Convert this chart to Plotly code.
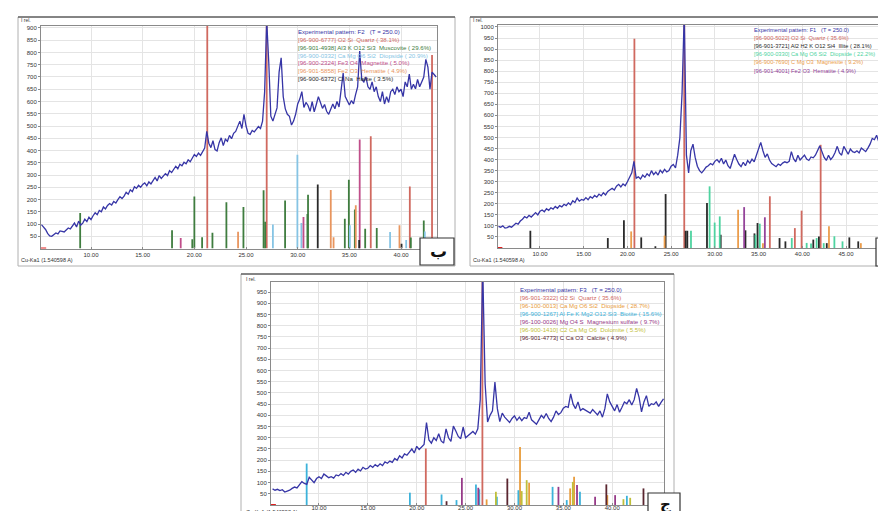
import numpy as np
import plotly.graph_objects as go

W, H = 886, 511

# ---------------- Panel ب (F2) ----------------
B_X0, B_STEP = 5.2, 0.2
B_Y = [98, 90, 78, 62, 52,
       50, 58, 64, 60, 72,
       70, 68, 76, 84, 80,
       92, 104, 88, 112, 96,
       104, 120, 110, 128, 118,
       134, 146, 138, 156, 150,
       170, 162, 176, 184, 178,
       192, 186, 200, 212, 204,
       214, 230, 222, 240, 232,
       252, 246, 258, 250, 262,
       268, 256, 272, 264, 280,
       290, 276, 298, 286, 294,
       306, 298, 318, 310, 322,
       336, 326, 344, 338, 352,
       346, 362, 354, 372, 384,
       376, 390, 380, 396, 410,
       478, 430, 412, 440, 404,
       398, 432, 452, 420, 446,
       438, 462, 448, 470, 478,
       500, 520, 490, 548, 500,
       470, 466, 482, 476, 488,
       498, 490, 520, 640, 930,
       760, 540, 520, 548, 574,
       720, 778, 620, 570, 548,
       540, 504, 520, 548, 590,
       610, 640, 576, 596, 584,
       560, 600, 558, 588, 620,
       596, 572, 588, 560, 548,
       566, 590, 570, 600, 578,
       640, 716, 620, 600, 586,
       604, 590, 628, 660, 806,
       690, 680, 700, 660, 650,
       680, 640, 660, 620, 600,
       640, 590, 620, 596, 640,
       650, 628, 660, 640, 650,
       620, 680, 660, 712, 650,
       670, 652, 690, 660, 680,
       700, 772, 740, 650, 720,
       710, 700]

B_QUARTZ_X = [21.25, 27.0, 37.07, 40.85, 43.0]
B_QUARTZ_H = [2000, 2000, 458, 253, 790]
B_MUSC_X = [8.95, 17.84, 19.8, 20.0, 20.75, 21.75, 23.1, 24.75, 26.7, 26.85, 28.78,
            30.94, 31.0, 34.56, 34.95, 35.53, 36.53, 37.65, 40.95, 42.2]
B_MUSC_H = [145, 75, 38, 213, 46, 65, 189, 170, 238, 110, 196,
            141, 220, 122, 281, 159, 81, 84, 45, 115]
B_DIOP_X = [27.6, 29.97, 30.36, 35.05, 38.94, 40.5, 42.3]
B_DIOP_H = [98, 383, 104, 95, 68, 35, 70]
B_MAGN_X = [18.68, 30.56, 36.0]
B_MAGN_H = [43, 129, 445]
B_HEM_X = [24.23, 33.2, 33.47, 35.62, 39.85]
B_HEM_H = [69, 239, 46, 177, 95]
B_HAL_X = [31.94, 35.95, 40.05]
B_HAL_H = [261, 35, 20]

B_LEGEND = ["Experimental pattern: F2   (T = 250.0)",
            "[96-900-6777] O2 Si  Quartz ( 38.1%)",
            "[96-901-4938] Al3 K O12 Si3  Muscovite ( 29.6%)",
            "[96-900-0332] Ca Mg O6 Si2  Diopside ( 20.9%)",
            "[96-900-2324] Fe3 O4  Magnetite ( 5.0%)",
            "[96-901-5858] Fe2 O3  Hematite ( 4.9%)",
            "[96-900-6372] Cl Na  Halite ( 3.5%)"]

# ---------------- Panel أ (F1) ----------------
A_X0, A_STEP = 5.25, 0.25
A_Y = [98, 94, 100, 90,
       92, 98, 94, 104,
       112, 108, 122, 130,
       142, 136, 148, 140,
       152, 160, 150, 166,
       172, 164, 178, 170,
       182, 176, 188, 180,
       192, 186, 198, 192,
       204, 196, 214, 206,
       226, 212, 220, 216,
       228, 218, 232, 226,
       238, 230, 244, 236,
       250, 240, 256, 262,
       270, 262, 280, 288,
       276, 290, 282, 300,
       320, 340, 392, 316,
       322, 312, 330, 320,
       336, 326, 350, 332,
       344, 330, 352, 340,
       356, 344, 350, 370,
       378, 362, 420, 498,
       700, 1060, 420, 340,
       440, 470, 410, 370,
       350, 340, 352, 366,
       372, 382, 376, 392,
       400, 388, 406, 380,
       398, 372, 360, 392,
       424, 400, 380, 368,
       388, 372, 396, 384,
       402, 390, 420, 448,
       478, 440, 410, 426,
       398, 382, 376, 368,
       380, 374, 384, 390,
       386, 392, 436, 404,
       390, 420, 398, 410,
       420, 402, 396, 412,
       408, 420, 440, 462,
       436, 410, 396, 420,
       400, 412, 432, 460,
       430, 420, 460, 440,
       424, 448, 436, 432,
       440, 430, 452, 444,
       436, 452, 470, 496,
       490, 510, 480, 500,
       520, 512, 498, 470,
       456]

A_QUARTZ_X = [20.8, 26.5, 36.29, 39.15, 39.92, 42.1, 49.74]
A_QUARTZ_H = [947, 2000, 234, 90, 169, 467, 302]
A_ILL_X = [8.9, 17.76, 19.6, 21.58, 23.2, 24.37, 26.66, 26.85, 29.1, 30.67, 33.5,
           34.53, 34.88, 37.4, 38.07, 41.26, 41.9, 42.8, 45.38, 46.4, 49.6]
A_ILL_H = [78, 45, 125, 48, 8, 244, 78, 78, 204, 60, 80,
           66, 113, 45, 30, 38, 52, 22, 48, 30, 72]
A_DIOP_X = [27.27, 29.4, 29.98, 30.56, 34.65, 35.14, 38.8, 40.5, 41.0, 41.64, 42.45, 43.67, 44.6]
A_DIOP_H = [78, 279, 115, 143, 60, 110, 45, 23, 20, 45, 22, 53, 30]
A_MAGS_X = [20.43, 24.25, 32.66, 35.5, 43.05, 46.7]
A_MAGS_H = [75, 56, 173, 22, 98, 22]
A_HEM_X = [33.35, 35.72]
A_HEM_H = [185, 139]

A_LEGEND = ["Experimental pattern: F1   (T = 250.0)",
            "[96-900-5022] O2 Si  Quartz ( 35.6%)",
            "[96-901-3721] Al2 H2 K O12 Si4  Illite ( 28.1%)",
            "[96-900-0330] Ca Mg O6 Si2  Diopside ( 22.2%)",
            "[96-900-7690] C Mg O3  Magnesite ( 9.2%)",
            "[96-901-4001] Fe2 O3  Hematite ( 4.9%)"]

# ---------------- Panel ج (F3) ----------------
C_X0, C_STEP = 5.25, 0.25
C_Y = [72, 66, 70, 64,
       68, 58, 62, 66,
       74, 80, 76, 90,
       104, 96, 92, 124,
       112, 100, 118, 126,
       118, 138, 130, 122,
       126, 120, 134, 130,
       140, 132, 146, 138,
       150, 156, 146, 160,
       152, 168, 160, 164,
       176, 168, 180, 172,
       184, 176, 192, 186,
       196, 190, 208, 200,
       220, 210, 228, 222,
       236, 250, 232, 262,
       248, 258, 270, 368,
       290, 276, 300, 288,
       318, 286, 276, 340,
       300, 284, 352, 330,
       306, 296, 348, 300,
       310, 318, 328, 316,
       340, 470, 1060, 540,
       370, 400, 420, 548,
       430, 372, 410, 392,
       380, 368, 386, 398,
       378, 392, 376, 390,
       386, 414, 380, 372,
       360, 380, 400, 388,
       408, 386, 372, 392,
       420, 404, 412, 432,
       440, 436, 496, 450,
       430, 460, 422, 430,
       424, 418, 410, 426,
       412, 402, 420, 392,
       430, 496, 460, 440,
       420, 448, 414, 436,
       460, 452, 470, 446,
       470, 520, 480, 416,
       460, 488, 440, 452,
       448, 460, 440, 458,
       474]

C_QUARTZ_X = [20.93, 26.72]
C_QUARTZ_H = [252, 2000]
C_DIOP_X = [27.15, 30.57, 31.5, 35.7, 36.1, 39.5, 44.06, 44.4]
C_DIOP_H = [25, 259, 99, 74, 126, 44, 22, 45]
C_BIOT_X = [8.74, 19.3, 22.54, 24.07, 26.06, 26.4, 28.2, 30.4, 33.9, 35.35, 36.7, 41.5]
C_BIOT_H = [185, 55, 47, 22, 92, 70, 37, 66, 81, 22, 59, 41]
C_MGS_X = [24.62, 26.3, 34.5, 36.4, 38.25, 40.3]
C_MGS_H = [121, 77, 81, 89, 37, 44]
C_DOL_X = [28.1, 30.74, 31.25, 35.97, 41.15, 41.84]
C_DOL_H = [59, 62, 111, 103, 26, 32]
C_CAL_X = [23.05, 29.27, 39.4, 43.2]
C_CAL_H = [17, 118, 92, 74]

C_LEGEND = ["Experimental pattern: F3   (T = 250.0)",
            "[96-901-3322] O2 Si  Quartz ( 35.6%)",
            "[96-100-0013] Ca Mg O6 Si2  Diopside ( 28.7%)",
            "[96-900-1267] Al Fe K Mg2 O12 Si3  Biotite ( 15.6%)",
            "[96-100-0026] Mg O4 S  Magnesium sulfate ( 9.7%)",
            "[96-900-1410] C2 Ca Mg O6  Dolomite ( 5.5%)",
            "[96-901-4773] C Ca O3  Calcite ( 4.9%)"]

# ---------------- styling ----------------
BLUE = "#3635a6"
RED = "#d0695f"
FONT = "Liberation Sans"

B_COLORS = [BLUE, RED, "#3f7d3f", "#86c4e4", "#c04e8a", "#e8955e", "#2a2a2a"]
A_COLORS = [BLUE, RED, "#2a2a2a", "#4ed3a0", "#eb9d4c", "#94449a"]
C_COLORS = [BLUE, RED, "#e89c3c", "#3cb2da", "#963a88", "#bfbf3a", "#5a2630"]


def px(x):
    return x / W


def py(y):
    return 1 - y / H


def sticks(xs, hs):
    X, Y = [], []
    for x, h in zip(xs, hs):
        X += [x, x, None]
        Y += [0, h, None]
    return X, Y


fig = go.Figure()


def add_panel(n, xs0, step, ys, stick_sets, colors):
    xa = "x" if n == 1 else "x%d" % n
    ya = "y" if n == 1 else "y%d" % n
    for (sx, sh), col in zip(stick_sets, colors[1:]):
        X, Y = sticks(sx, sh)
        fig.add_trace(go.Scatter(x=X, y=Y, mode="lines", line=dict(color=col, width=1.8),
                                 xaxis=xa, yaxis=ya, hoverinfo="skip", showlegend=False))
    xs = np.round(xs0 + step * np.arange(len(ys)), 3)
    fig.add_trace(go.Scatter(x=xs, y=ys, mode="lines", line=dict(color=BLUE, width=1.3),
                             xaxis=xa, yaxis=ya, showlegend=False))


add_panel(1, B_X0, B_STEP, B_Y,
          [(B_QUARTZ_X, B_QUARTZ_H), (B_MUSC_X, B_MUSC_H), (B_DIOP_X, B_DIOP_H),
           (B_MAGN_X, B_MAGN_H), (B_HEM_X, B_HEM_H), (B_HAL_X, B_HAL_H)], B_COLORS)
add_panel(2, A_X0, A_STEP, A_Y,
          [(A_QUARTZ_X, A_QUARTZ_H), (A_ILL_X, A_ILL_H), (A_DIOP_X, A_DIOP_H),
           (A_MAGS_X, A_MAGS_H), (A_HEM_X, A_HEM_H)], A_COLORS)
add_panel(3, C_X0, C_STEP, C_Y,
          [(C_QUARTZ_X, C_QUARTZ_H), (C_DIOP_X, C_DIOP_H), (C_BIOT_X, C_BIOT_H),
           (C_MGS_X, C_MGS_H), (C_DOL_X, C_DOL_H), (C_CAL_X, C_CAL_H)], C_COLORS)


def xax(dom, rng, ticks, anchor, standoff=0):
    return dict(domain=dom, range=rng, tickvals=ticks, ticktext=["%.2f" % t for t in ticks],
                showgrid=True, gridcolor="#e4e4e4", gridwidth=1, zeroline=False,
                showline=True, linecolor="#8a8a8a", linewidth=1, mirror=True,
                ticks="inside", ticklen=2, tickcolor="#8a8a8a", ticklabelstandoff=standoff,
                tickfont=dict(size=6, color="#333", family=FONT), anchor=anchor)


def yax(dom, rng, ticks, anchor):
    return dict(domain=dom, range=rng, tickvals=ticks, ticktext=[str(t) for t in ticks],
                showgrid=True, gridcolor="#e4e4e4", gridwidth=1, zeroline=False,
                showline=True, linecolor="#8a8a8a", linewidth=1, mirror=True,
                ticks="outside", ticklen=2, tickcolor="#8a8a8a",
                tickfont=dict(size=6, color="#333", family=FONT), anchor=anchor)


B_XTICKS = [10, 15, 20, 25, 30, 35, 40]
A_XTICKS = [10, 15, 20, 25, 30, 35, 40, 45]
C_XTICKS = [10, 15, 20, 25, 30, 35, 40]
B_YTICKS = list(range(50, 901, 50))
A_YTICKS = list(range(50, 1001, 50))
C_YTICKS = list(range(50, 951, 50))

fig.update_layout(
    width=W, height=H, margin=dict(l=0, r=0, t=0, b=0),
    paper_bgcolor="white", plot_bgcolor="white", showlegend=False,
    xaxis=xax([px(33), px(429)], [5.16, 43.48], B_XTICKS, "y"),
    yaxis=yax([py(240.6), py(18)], [0, 908], B_YTICKS, "x"),
    xaxis2=xax([px(490), px(884)], [5.2, 50.26], A_XTICKS, "y2"),
    yaxis2=yax([py(240), py(17)], [0, 1009], A_YTICKS, "x2"),
    xaxis3=xax([px(263), px(656)], [5.09, 45.3], C_XTICKS, "y3", standoff=-3),
    yaxis3=yax([py(497), py(274)], [0, 995], C_YTICKS, "x3"),
)

shapes = []
ann = []
# outer frames
for (x0, y0, x1, y1) in [(10, 9, 447, 258), (462, 9, 886, 258), (233, 266, 666, 511)]:
    shapes.append(dict(type="rect", xref="paper", yref="paper", x0=px(x0), x1=px(x1),
                       y0=py(y1), y1=py(y0), line=dict(color="#b0b0b0", width=1)))
    shapes.append(dict(type="line", xref="paper", yref="paper", x0=px(x0), x1=px(x1),
                       y0=py(y0), y1=py(y0), line=dict(color="#333", width=1.2)))

# red zero marks at origin
for xr, yr, x0 in [("x", "y", 5.16), ("x2", "y2", 5.2), ("x3", "y3", 5.09)]:
    shapes.append(dict(type="line", xref=xr, yref=yr, x0=x0, x1=x0 + 0.5, y0=0, y1=0,
                       line=dict(color="#e02020", width=2)))

# legends
for texts, cols, lx, ly, dy, fs in [(B_LEGEND, B_COLORS, 288, 23.3, 7.9, 6.1),
                                    (A_LEGEND, A_COLORS, 744, 21.7, 8.2, 5.7),
                                    (C_LEGEND, C_COLORS, 510, 281.7, 7.9, 6.1)]:
    for i, (t, c) in enumerate(zip(texts, cols)):
        ann.append(dict(xref="paper", yref="paper", x=px(lx), y=py(ly + i * dy), text=t,
                        showarrow=False, xanchor="left", yanchor="middle",
                        font=dict(size=fs, color=c, family=FONT)))

# axis titles
for x, y in [(11, 12), (463, 12), (236, 271)]:
    ann.append(dict(xref="paper", yref="paper", x=px(x), y=py(y), text="I rel.",
                    showarrow=False, xanchor="left", yanchor="middle",
                    font=dict(size=5, color="#333", family=FONT)))
for x, y in [(11, 252), (463, 252), (236, 504)]:
    ann.append(dict(xref="paper", yref="paper", x=px(x), y=py(y), text="Cu-Ka1 (1.540598 A)",
                    showarrow=False, xanchor="left", yanchor="middle",
                    font=dict(size=5.5, color="#333", family=FONT)))

# letter boxes
for (x0, y0, x1, y1, letter, lxc, lyc, fs) in [(412, 230, 446, 257, "ب", 430, 243, 17),
                                               (868, 230, 886, 258, "أ", 877, 244, 15),
                                               (640, 485, 672, 511, "ج", 657, 496, 15)]:
    shapes.append(dict(type="rect", xref="paper", yref="paper", x0=px(x0), x1=px(x1),
                       y0=py(y1), y1=py(y0), fillcolor="white",
                       line=dict(color="#333", width=1.2)))
    ann.append(dict(xref="paper", yref="paper", x=px(lxc), y=py(lyc),
                    text="<b>%s</b>" % letter, showarrow=False, xanchor="center",
                    yanchor="middle", font=dict(size=fs, color="#111", family="DejaVu Sans")))

fig.update_layout(shapes=shapes, annotations=ann)
fig.write_html("out.html")
